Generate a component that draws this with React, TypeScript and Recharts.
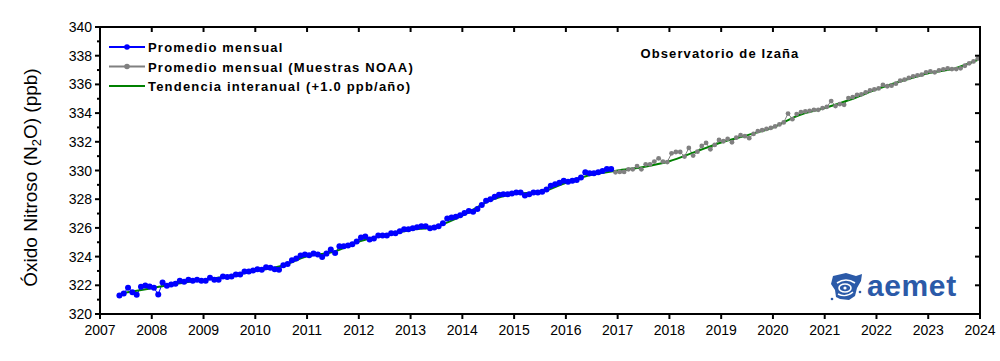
import React from "react";
import { LineChart, Line, XAxis, YAxis } from "recharts";

// Monthly means, Izaña (own measurements), starting May 2007
const blueStart = { year: 2007, month: 5 };
const blueValues = [
  321.29, 321.43, 321.83, 321.52, 321.34, 321.9, 321.99, 321.92, 321.83, 321.36,
  322.2, 321.97, 322.05, 322.11, 322.32, 322.25, 322.39, 322.32, 322.39, 322.32,
  322.32, 322.53, 322.39, 322.39, 322.62, 322.58, 322.62, 322.76, 322.76, 322.97,
  322.97, 323.04, 323.11, 323.09, 323.25, 323.23, 323.11, 323.09, 323.39, 323.48,
  323.74, 323.86, 324.07, 324.14, 324.09, 324.21, 324.14, 323.97, 324.21, 324.49,
  324.25, 324.72, 324.72, 324.77, 324.86, 325.05, 325.33, 325.4, 325.19, 325.26,
  325.47, 325.47, 325.47, 325.63, 325.63, 325.77, 325.91, 325.91, 325.98, 326.05,
  326.12, 326.12, 325.98, 326.03, 326.12, 326.33, 326.66, 326.73, 326.77, 326.89,
  327.03, 327.17, 327.12, 327.31, 327.59, 327.89, 328.0, 328.17, 328.31, 328.35,
  328.35, 328.4, 328.47, 328.47, 328.26, 328.35, 328.47, 328.47, 328.52, 328.68,
  328.94, 329.05, 329.14, 329.29, 329.22, 329.29, 329.33, 329.52, 329.87, 329.8,
  329.8, 329.87, 329.96, 330.1, 330.1,
];

// Monthly means from NOAA flask samples, starting December 2016
const grayStart = { year: 2016, month: 12 };
const grayValues = [
  329.87, 329.9, 329.9, 330.08, 330.08, 330.31, 330.08, 330.43, 330.43, 330.62,
  330.85, 330.62, 330.59, 331.2, 331.29, 331.29, 330.97, 331.57, 331.04, 331.31,
  331.71, 331.92, 331.48, 331.78, 332.13, 332.04, 332.2, 331.97, 332.29, 332.46,
  332.39, 332.25, 332.55, 332.74, 332.81, 332.9, 332.97, 333.07, 333.21, 333.35,
  333.97, 333.58, 333.93, 334.07, 334.12, 334.16, 334.23, 334.23, 334.35, 334.44,
  334.84, 334.49, 334.63, 334.58, 335.05, 335.12, 335.26, 335.31, 335.45, 335.58,
  335.65, 335.72, 335.96, 335.87, 335.91, 336.05, 336.26, 336.33, 336.45, 336.56,
  336.63, 336.68, 336.84, 336.91, 336.84, 336.98, 337.05, 337.12, 337.07, 337.07,
  337.12, 337.3, 337.47, 337.6, 337.8,
];

// Interannual trend
const trendYears = [
  2007.5, 2008.0, 2008.5, 2009.0, 2009.5, 2010.0, 2010.5, 2011.0, 2011.5, 2012.0,
  2012.5, 2013.0, 2013.5, 2014.0, 2014.5, 2015.0, 2015.5, 2016.0, 2016.5, 2017.0,
  2017.5, 2018.0, 2018.5, 2019.0, 2019.5, 2020.0, 2020.5, 2021.0, 2021.5, 2022.0,
  2022.5, 2023.0, 2023.5, 2023.95,
];
const trendValues = [
  321.5, 321.8, 322.12, 322.37, 322.65, 323.0, 323.35, 324.02, 324.32, 325.05,
  325.48, 325.85, 326.1, 326.85, 327.85, 328.38, 328.5, 329.15, 329.7, 330.0,
  330.25, 330.65, 331.3, 331.95, 332.45, 333.0, 333.85, 334.35, 334.95, 335.65,
  336.25, 336.78, 337.1, 337.7,
];

const xTicks = [2007, 2008, 2009, 2010, 2011, 2012, 2013, 2014, 2015, 2016, 2017, 2018, 2019, 2020, 2021, 2022, 2023, 2024];
const yTicks = [320, 321, 322, 323, 324, 325, 326, 327, 328, 329, 330, 331, 332, 333, 334, 335, 336, 337, 338, 339, 340];
const yMajorTicks = [320, 322, 324, 326, 328, 330, 332, 334, 336, 338, 340];

const seriesMeta = [
  { key: "blue", name: "Promedio mensual", color: "#0000ff", marker: true },
  { key: "gray", name: "Promedio mensual (Muestras NOAA)", color: "#808080", marker: true },
  { key: "trend", name: "Tendencia interanual (+1.0 ppb/año)", color: "#008000", marker: false },
];

const stationTitle = "Observatorio de Izaña";
const logoText = "aemet";

const monthToYear = (start: { year: number; month: number }, i: number) => {
  const m = start.month - 1 + i;
  return start.year + Math.floor(m / 12) + ((m % 12) + 0.5) / 12;
};

const blueData = blueValues.map((v, i) => ({ t: monthToYear(blueStart, i), v }));
const grayData = grayValues.map((v, i) => ({ t: monthToYear(grayStart, i), v }));
const trendData = trendValues.map((v, i) => ({ t: trendYears[i], v }));

const FONT = "'Liberation Sans', Arial, sans-serif";

// plot frame
const PLOT_LEFT = 100;
const PLOT_RIGHT = 980;
const PLOT_TOP = 27;
const PLOT_BOTTOM = 314;

const LeftTick = (props: any) => {
  const { x, y, payload } = props;
  const major = yMajorTicks.includes(payload.value);
  return (
    <g>
      <line x1={x + (major ? 3 : 5)} x2={x + 8} y1={y} y2={y} stroke="#000" strokeWidth={2} />
      {major && <line x1={PLOT_RIGHT - 5} x2={PLOT_RIGHT} y1={y} y2={y} stroke="#000" strokeWidth={2} />}
      {major && (
        <text x={x} y={y} dy={5} textAnchor="end" fontSize={14} fontFamily={FONT} fill="#000">
          {payload.value}
        </text>
      )}
    </g>
  );
};

const BottomTick = (props: any) => {
  const { x, y, payload } = props;
  return (
    <g>
      <line x1={x} x2={x} y1={PLOT_BOTTOM} y2={PLOT_BOTTOM + 5} stroke="#000" strokeWidth={2} />
      <line x1={x} x2={x} y1={PLOT_TOP} y2={PLOT_TOP + 5} stroke="#000" strokeWidth={2} />
      <text x={x} y={y} dy={13} textAnchor="middle" fontSize={14} fontFamily={FONT} fill="#000">
        {payload.value}
      </text>
    </g>
  );
};

const YLabel = (props: any) => {
  const vb = props.viewBox || { x: 40, y: 27, width: 60, height: 287 };
  const cx = 37;
  const cy = vb.y + vb.height / 2 + 7;
  return (
    <text
      x={cx}
      y={cy}
      transform={`rotate(-90 ${cx} ${cy})`}
      textAnchor="middle"
      fontSize={19}
      fontFamily={FONT}
      fill="#000"
    >
      Óxido Nitroso (N<tspan fontSize={13} dy={4}>2</tspan>
      <tspan dy={-4}>O) (ppb)</tspan>
    </text>
  );
};

const Logo = () => (
  <g>
    <path
      d="M833 276 L846 273 L856 276 L862 274 L861 281 L857 288 L855 296 L849 300 L840 299 L836 297 L835 290 L831 284 Z"
      fill="#2b5aa8"
    />
    <path d="M837 283 Q846 277 855 283" fill="none" stroke="#fff" strokeWidth={1.6} />
    <ellipse cx={845} cy={288} rx={6} ry={4} fill="none" stroke="#fff" strokeWidth={1.6} />
    <circle cx={845} cy={288} r={1.6} fill="#fff" />
    <path d="M838 294 Q846 298 853 292" fill="none" stroke="#fff" strokeWidth={1.4} />
    <circle cx={832} cy={299} r={1.3} fill="#2b5aa8" />
    <circle cx={860} cy={292} r={1.3} fill="#2b5aa8" />
    <text x={867} y={296} fontSize={30} fontWeight="bold" fontFamily={FONT} fill="#2b5aa8" letterSpacing={0.6}>
      {logoText}
    </text>
  </g>
);

export default function App() {
  return (
    <div style={{ position: "absolute", left: 0, top: 0, width: 1000, height: 361, background: "#fff" }}>
      <LineChart width={1000} height={361} margin={{ top: PLOT_TOP, right: 1000 - PLOT_RIGHT, bottom: 17, left: 40 }}>
        <XAxis
          dataKey="t"
          type="number"
          domain={[2007, 2024]}
          ticks={xTicks}
          allowDataOverflow
          height={30}
          axisLine={{ stroke: "#000", strokeWidth: 2 }}
          tickLine={false}
          tickSize={5}
          tickMargin={3}
          tick={<BottomTick />}
          interval={0}
        />
        <YAxis
          type="number"
          domain={[320, 340]}
          ticks={yTicks}
          allowDataOverflow
          width={60}
          tickSize={5}
          tickMargin={3}
          axisLine={{ stroke: "#000", strokeWidth: 2 }}
          tickLine={false}
          tick={<LeftTick />}
          interval={0}
          label={<YLabel />}
        />
        <Line
          data={grayData}
          dataKey="v"
          name={seriesMeta[1].name}
          stroke={seriesMeta[1].color}
          strokeWidth={1}
          dot={{ r: 2.4, fill: seriesMeta[1].color, stroke: "none" }}
          activeDot={false}
          isAnimationActive={false}
        />
        <Line
          data={blueData}
          dataKey="v"
          name={seriesMeta[0].name}
          stroke={seriesMeta[0].color}
          strokeWidth={1}
          dot={{ r: 3, fill: seriesMeta[0].color, stroke: "none" }}
          activeDot={false}
          isAnimationActive={false}
        />
        <Line
          data={trendData}
          dataKey="v"
          type="monotone"
          name={seriesMeta[2].name}
          stroke={seriesMeta[2].color}
          strokeWidth={2}
          dot={false}
          activeDot={false}
          isAnimationActive={false}
        />
      </LineChart>
      <svg width={1000} height={361} style={{ position: "absolute", left: 0, top: 0, pointerEvents: "none" }}>
        <line x1={PLOT_LEFT - 1} x2={PLOT_RIGHT + 1} y1={PLOT_TOP} y2={PLOT_TOP} stroke="#000" strokeWidth={2} />
        <line x1={PLOT_RIGHT} x2={PLOT_RIGHT} y1={PLOT_TOP} y2={PLOT_BOTTOM + 1} stroke="#000" strokeWidth={2} />
        {seriesMeta.map((s, i) => {
          const y = 47 + i * 19.5;
          return (
            <g key={s.key}>
              <line x1={109} x2={145} y1={y} y2={y} stroke={s.color} strokeWidth={2} />
              {s.marker && <circle cx={127} cy={y} r={2.8} fill={s.color} />}
              <text x={148} y={y + 5} fontSize={13} fontWeight="bold" fontFamily={FONT} fill="#000" letterSpacing={1.2}>
                {s.name}
              </text>
            </g>
          );
        })}
        <text x={720} y={58} textAnchor="middle" fontSize={13} fontWeight="bold" fontFamily={FONT} fill="#000" letterSpacing={1.1}>
          {stationTitle}
        </text>
        <Logo />
      </svg>
    </div>
  );
}
